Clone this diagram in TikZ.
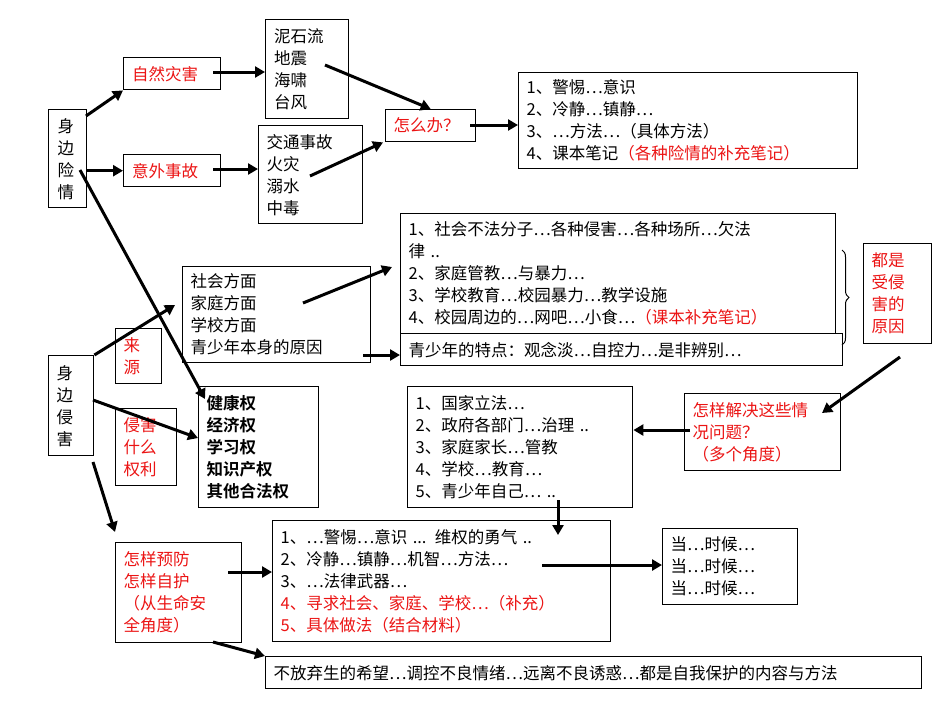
\documentclass[tikz,border=0pt]{standalone}
\usepackage{fontspec}
\setmainfont{Noto Sans CJK SC}
\newfontfamily\cjkb{Noto Sans CJK SC Bold}
\usetikzlibrary{arrows.meta,decorations.pathreplacing}
\definecolor{rd}{RGB}{235,20,20}
\tikzset{
 bx/.style={draw,line width=1.4pt,anchor=north west,align=left,inner xsep=8pt,inner ysep=2pt,font=\fontsize{16.5}{22}\selectfont},
 rbx/.style={bx,text=rd},
 ar/.style={line width=3pt,-{Triangle[length=10pt,width=11pt]}},
 ln/.style={line width=3pt}
}
\begin{document}
\begin{tikzpicture}[x=1pt,y=-1pt]
\useasboundingbox (0,0) rectangle (950,713);
\newcommand\bxn[7]{\node[#1,minimum width=#4,minimum height=#5,text width=#6] (#2) at #3 {#7};}
\bxn{bx}{sxq}{(48,109)}{38pt}{98pt}{20pt}{身\\边\\险\\情}
\bxn{rbx}{zr}{(123,57)}{97pt}{32pt}{80pt}{自然灾害}
\bxn{rbx}{yw}{(123,154)}{97pt}{32pt}{80pt}{意外事故}
\bxn{bx}{nsl}{(265,19)}{83pt}{99pt}{66pt}{泥石流\\地震\\海啸\\台风}
\bxn{bx}{jt}{(258,125)}{104pt}{98pt}{88pt}{交通事故\\火灾\\溺水\\中毒}
\bxn{rbx}{zmb}{(385,109)}{90pt}{32pt}{74pt}{怎么办？}
\bxn{bx}{jt1}{(518,72)}{339pt}{96pt}{323pt}{1、警惕⋯意识\\2、冷静⋯镇静⋯\\3、⋯方法⋯（具体方法）\\4、课本笔记\textcolor{rd}{（各种险情的补充笔记）}}
\bxn{bx}{shfm}{(182,266)}{188pt}{96pt}{172pt}{社会方面\\家庭方面\\学校方面\\青少年本身的原因}
\bxn{bx}{big}{(400,213)}{435pt}{120pt}{419pt}{1、社会不法分子⋯各种侵害⋯各种场所⋯欠法\\律 ..\\2、家庭管教⋯与暴力⋯\\3、学校教育⋯校园暴力⋯教学设施\\4、校园周边的⋯网吧⋯小食⋯\textcolor{rd}{（课本补充笔记）}}
\bxn{bx}{tedian}{(400,333)}{442pt}{32pt}{426pt}{青少年的特点：观念淡⋯自控力⋯是非辨别⋯}
\bxn{rbx}{dssh}{(863,243)}{68pt}{100pt}{52pt}{都是\\受侵\\害的\\原因}
\bxn{rbx}{ly}{(115,328)}{46pt}{55pt}{30pt}{来\\源}
\bxn{bx}{sbqh}{(48,355)}{45pt}{100pt}{29pt}{身\\边\\侵\\害}
\bxn{rbx}{qhsm}{(115,408)}{61pt}{77pt}{45pt}{侵害\\什么\\权利}
\bxn{bx}{jkq}{(198,386)}{120pt}{121pt}{104pt}{\cjkb 健康权\\经济权\\学习权\\知识产权\\其他合法权}
\bxn{bx}{gjlf}{(407,386)}{225pt}{121pt}{209pt}{1、国家立法⋯\\2、政府各部门⋯治理 ..\\3、家庭家长⋯管教\\4、学校⋯教育⋯\\5、青少年自己⋯ ..}
\bxn{rbx}{zyjj}{(684,393)}{149pt}{77pt}{140pt}{怎样解决这些情\\况问题？\\（多个角度）}
\bxn{bx}{jt2}{(272,520)}{338pt}{121pt}{322pt}{1、⋯警惕⋯意识 ... 维权的勇气 ..\\2、冷静⋯镇静⋯机智⋯方法⋯\\3、⋯法律武器⋯\\\textcolor{rd}{4、寻求社会、家庭、学校⋯（补充）}\\\textcolor{rd}{5、具体做法（结合材料）}}
\bxn{bx}{dang}{(662,528)}{135pt}{76pt}{119pt}{当⋯时候⋯\\当⋯时候⋯\\当⋯时候⋯}
\bxn{rbx}{zyyf}{(115,542)}{120pt}{100pt}{110pt}{怎样预防\\怎样自护\\（从生命安\\全角度）}
\bxn{bx}{bfq}{(265,656)}{650pt}{32pt}{640pt}{不放弃生的希望⋯调控不良情绪⋯远离不良诱惑⋯都是自我保护的内容与方法}
% connectors
\coordinate (a1) at (86,116); \draw[ar] (a1) -- (zr.south west);
\draw[ar] (sxq.east|-yw) -- (yw.west);
\coordinate (zrs) at (213,72); \draw[ar] (zrs) -- (nsl.west|-zrs);
\coordinate (yws) at (213,169); \draw[ar] (yws) -- (jt.west|-yws);
\coordinate (dz) at (325,65); \draw[ar] (dz) -- (zmb.north);
\coordinate (hz) at (310,176); \draw[ar] (hz) -- ([xshift=-2pt]zmb.south west);
\coordinate (zmbs) at (470,125); \draw[ar] (zmbs) -- (jt1.west|-zmbs);
\coordinate (a2) at (80,170); \coordinate (a3) at (205,399); \draw[ar] (a2) -- (a3);
\draw[ar] (sbqh.north east) -- (175,305);
\coordinate (sh) at (303,303); \draw[ar] (sh) -- (392,267);
\coordinate (qs) at (363,355); \draw[ar] (qs) -- (tedian.west|-qs);
\coordinate (q1) at (93,400); \draw[ar] (q1) -- (jkq.west|-0,438);
\coordinate (ds) at (900,357); \draw[ar] (ds) -- (822,413);
\coordinate (zj) at (690,430); \draw[ar] (zj) -- (gjlf.east|-zj);
\coordinate (gs) at (558,500); \draw[ar] (gs) -- (558,535);
\coordinate (q2) at (93,462); \draw[ar] (q2) -- (115,532);
\coordinate (yf) at (228,572); \draw[ar] (yf) -- (jt2.west|-yf);
\coordinate (lj) at (542,565); \draw[ar] (lj) -- (dang.west|-lj);
\coordinate (yf2) at (213,642); \draw[ar] (yf2) -- (bfq.north west);
\draw[line width=1pt,decoration={brace,amplitude=7pt},decorate] (842,250) -- (842,345);
\end{tikzpicture}
\end{document}
